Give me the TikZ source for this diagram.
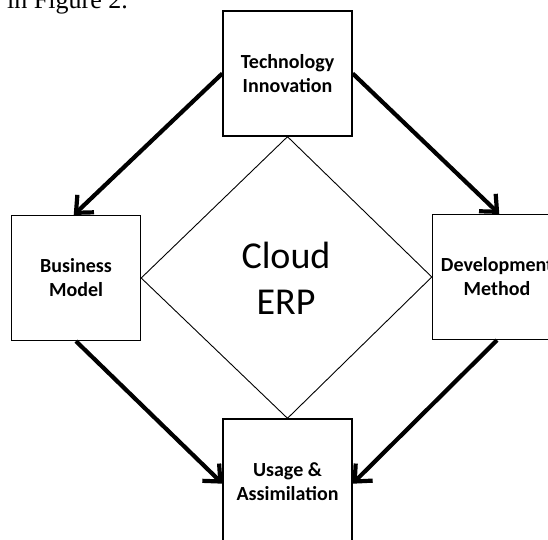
\documentclass[tikz,border=0pt]{standalone}
\usepackage{fontspec}
\setmainfont{Carlito}
\newfontfamily\serifft{Liberation Serif}
\usetikzlibrary{calc}
\newcommand{\flowarrow}[2]{%
  \draw[flow] (#1) -- (#2);
  \draw[flowhead] ($(#2)!18pt!42:(#1)$) -- (#2) -- ($(#2)!18pt!-42:(#1)$);}
\begin{document}
\begin{tikzpicture}[x=1pt,y=1pt,
  box/.style={draw, line width=1.4pt, minimum width=129pt, minimum height=125pt, inner sep=0pt, align=center, font=\bfseries\fontsize{20}{24}\selectfont},
  flow/.style={line width=4.2pt, shorten >=1.5pt},
  flowhead/.style={line width=4.2pt, line join=miter, miter limit=4, line cap=butt},
  link/.style={line width=0.9pt, line join=miter}]
\useasboundingbox (0,0) rectangle (548,539);
\clip (0,0) rectangle (548,539);
\node[box] (tech) at (287.5,465.5) {Technology\\Innovation};
\node[box] (biz) at (76,261) {Business\\Model};
\node[box] (dev) at (497,262) {Development\\Method};
\node[box] (use) at (287.5,57.5) {Usage \&\\Assimilation};
\draw[link] (tech.south) -- (biz.east) -- (use.north) -- (dev.west) -- cycle;
\node[font=\fontsize{38}{46}\selectfont, align=center] (cloud) at (286,261) {Cloud\\ERP};
\node[font=\serifft\fontsize{26}{30}\selectfont, anchor=base west, inner sep=0pt] (fig) at (7,530.5) {in Figure 2.};
\coordinate (bizin) at ([yshift=2pt]biz.north);
\coordinate (devin) at ([yshift=2pt]dev.north);
\coordinate (usewin) at ([xshift=-2pt]use.west);
\coordinate (useein) at ([xshift=2pt]use.east);
\flowarrow{tech.west}{bizin}
\flowarrow{tech.east}{devin}
\flowarrow{biz.south}{usewin}
\flowarrow{dev.south}{useein}
\end{tikzpicture}
\end{document}
